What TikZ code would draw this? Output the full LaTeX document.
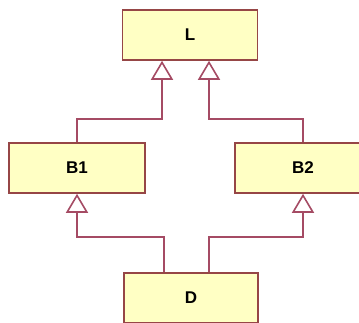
\documentclass[tikz,border=0pt]{standalone}
\usepackage{fontspec}
\setmainfont{Liberation Sans}
\usetikzlibrary{arrows.meta}

\definecolor{boxfill}{RGB}{255,255,196}
\definecolor{boxline}{RGB}{150,70,70}
\definecolor{linkline}{RGB}{165,75,100}

\tikzset{
  cls/.style={draw=boxline, fill=boxfill, line width=1.6pt, minimum width=136pt,
    minimum height=50pt, inner sep=0pt, font=\fontsize{17}{17}\selectfont\bfseries},
  inherit/.style={draw=linkline, line width=1.6pt,
    -{Triangle[open, length=19pt, width=22pt, line width=1.6pt]}},
}

\begin{document}
\begin{tikzpicture}[x=1pt, y=1pt]
  \clip (0,0) rectangle (359,-322);
  \fill[white] (0,0) rectangle (359,-322);

  \node[cls, minimum width=135pt] (L) at (190,-35) {L};
  \node[cls] (B1) at (77,-168) {B1};
  \node[cls] (B2) at (303,-168) {B2};
  \node[cls, minimum width=134pt] (D) at (191,-298) {D};

  % B1, B2 derive from L
  \draw[inherit] (B1.north) -- ++(0,23pt) -| ([xshift=-28pt]L.south);
  \draw[inherit] (B2.north) -- ++(0,23pt) -| ([xshift=19pt]L.south);

  % D derives from both
  \draw[inherit] ([xshift=-27pt]D.north) -- ++(0,35pt) -| (B1.south);
  \draw[inherit] ([xshift=18pt]D.north) -- ++(0,35pt) -| (B2.south);
\end{tikzpicture}
\end{document}
